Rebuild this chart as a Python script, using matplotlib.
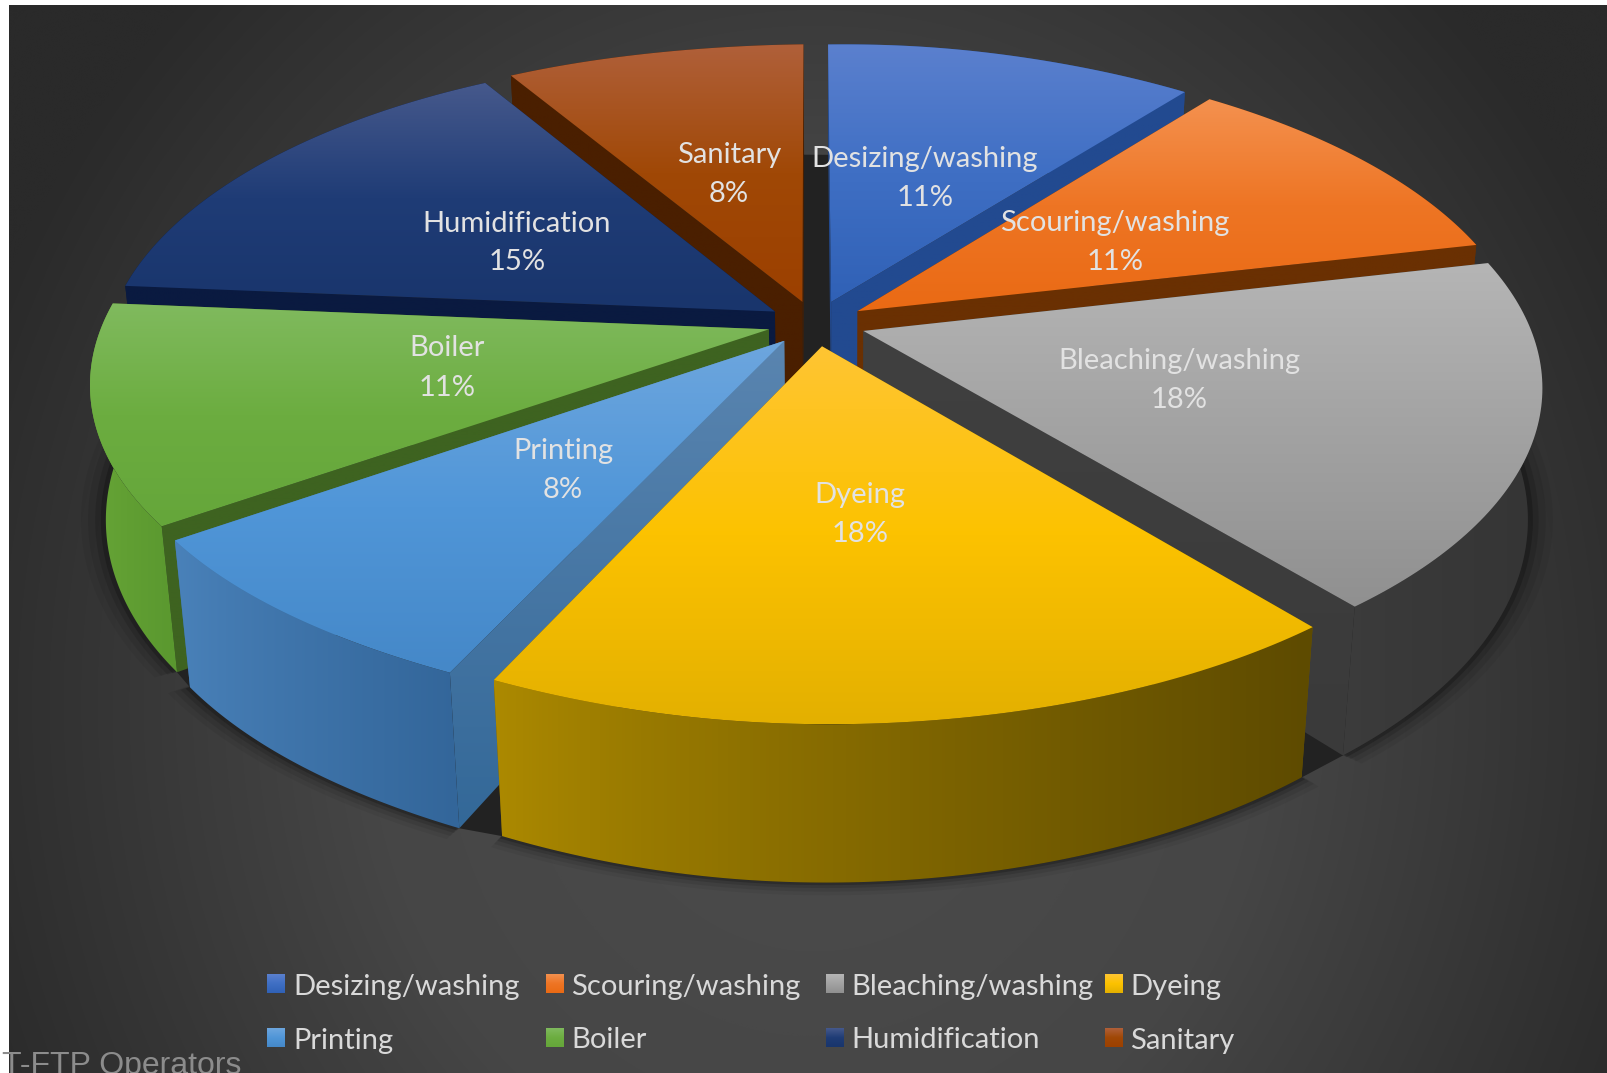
import numpy as np
import matplotlib
matplotlib.use("Agg")
import matplotlib.pyplot as plt
from matplotlib.colors import LinearSegmentedColormap
from matplotlib.patches import Polygon

categories = ["Desizing/washing", "Scouring/washing", "Bleaching/washing", "Dyeing",
              "Printing", "Boiler", "Humidification", "Sanitary"]
values = [11, 11, 18, 18, 8, 11, 15, 8]

top_colors = [("#5B80CE", "#3F6FC4", "#3061B6"), ("#F4914F", "#EE7524", "#EA6A14"),
              ("#B5B5B5", "#A2A2A2", "#909090"), ("#FFC533", "#FCC200", "#E3B000"),
              ("#6DA6DE", "#5096D8", "#4588C8"), ("#80BA5E", "#6CAD40", "#65A63A"),
              ("#46598C", "#1F3C76", "#19356C"), ("#B0603A", "#A04806", "#9C4000")]
edge_colors = [("#224A90", "#224A90"), ("#6A3002", "#6A3002"), ("#404040", "#3A3A3A"),
               ("#6E5600", "#6E5600"), ("#5A85B0", "#336898"), ("#3E6320", "#3E6320"),
               ("#0A1A40", "#0A1A40"), ("#4A1F00", "#4A1F00")]
wall_colors = [("#224A90", "#224A90"), ("#6A3002", "#6A3002"), ("#3C3C3C", "#353535"),
               ("#AD8A00", "#5E4B00"), ("#4A82BA", "#33669A"), ("#68A637", "#5A982F"),
               ("#0A1A40", "#0A1A40"), ("#4A1F00", "#4A1F00")]

label_pos = [(925, 178), (1115, 243), (1179, 381), (860, 514), (563, 471), (447, 368), (517, 243), (729, 175)]
legend_x = [267, 546, 826, 1105]
legend_text_x = [293, 571, 851, 1130]
legend_y = [984, 1038]

# projection of the pie plane onto the page, plus explosion and rotation of the slices
a, b, c, d, f, i, g, h = 685.46, 65.88, 825.26, -21.64, -252.03, 323.04, 0.02869, 0.1647
explode, rot = 0.074, 0.0585
depth, vanish_x, vanish_k = 130, 840, 6440

W, H = 1608, 1073
fig = plt.figure(figsize=(W / 100, H / 100), dpi=100, facecolor="white")
ax = fig.add_axes([0, 0, 1, 1])
ax.axis("off")


def project(u, v):
    w = g * u + h * v + 1
    return (a * u + b * v + c) / w, (d * u + f * v + i) / w, w


def lower(x, y, w):
    # bottom edge of the extruded pie, converging slightly towards the centre
    dy = depth / w
    return x + (vanish_x - x) * dy / vanish_k, y + dy


def bump(theta, centre, width):
    delta = (theta - centre + np.pi) % (2 * np.pi) - np.pi
    return np.exp(-(delta / width) ** 2)


def gradient_fill(points, colors, horizontal=False, gamma=1.0, zorder=2):
    points = np.asarray(points)
    cmap = LinearSegmentedColormap.from_list("g", list(colors))
    ramp = np.linspace(0, 1, 256) ** gamma
    ramp = ramp.reshape(1, -1) if horizontal else ramp.reshape(-1, 1)
    x0, x1 = points[:, 0].min(), points[:, 0].max()
    y0, y1 = points[:, 1].min(), points[:, 1].max()
    im = ax.imshow(ramp, cmap=cmap, extent=(x0, x1, y1, y0), aspect="auto", vmin=0, vmax=1, zorder=zorder)
    patch = Polygon(points, closed=True, transform=ax.transData, fc="none", ec="none")
    ax.add_patch(patch)
    im.set_clip_path(patch)


# background
yy, xx = np.mgrid[0:H, 0:W]
dist = np.hypot((xx - 810) / 900, (yy - 700) / 1000)
bg_cmap = LinearSegmentedColormap.from_list("bg", [(0, "#4C4C4C"), (0.5, "#464646"), (1, "#2A2A2A")])
ax.imshow(np.clip(dist, 0, 1), cmap=bg_cmap, extent=(9, W, H, 5), vmin=0, vmax=1, aspect="auto", zorder=0)

edges = np.radians(np.concatenate([[0], np.cumsum(values)]) * 3.6)
mids = (edges[:-1] + edges[1:]) / 2 + rot

shapes = []
for k in range(len(values)):
    ou, ov = explode * np.sin(mids[k]), explode * np.cos(mids[k])
    th = np.linspace(edges[k], edges[k + 1], 80)
    ax_, ay_, aw_ = project(ou - 0.013, ov)
    ox, oy, ow = project(ou + np.sin(th + rot), ov + np.cos(th + rot))
    # small correction of the rim so the perspective holds at the top and front left
    ox = ox + 17 * bump(th, 0, 0.3) + 14 * bump(th, np.radians(205), 0.35)
    shapes.append(((ax_, ay_, aw_), ox, oy, ow))

# soft shadow under the slices
for scale, alpha in ((1.035, 0.05), (1.025, 0.08), (1.015, 0.12), (1.007, 0.2)):
    for (ap, ox, oy, ow) in shapes:
        lx, ly = lower(ox, oy, ow)
        ax_l, ay_l = lower(*ap)
        pts = np.column_stack([np.r_[ax_l, lx], np.r_[ay_l, ly]])
        pts = np.array([815, 520]) + (pts - np.array([815, 520])) * scale
        ax.add_patch(Polygon(pts, closed=True, fc="black", ec="none", alpha=alpha, zorder=1))

# dark floor showing through the gaps between the slices
rim = [lower(ox, oy, ow) for (ap, ox, oy, ow) in shapes]
floor = np.column_stack([np.concatenate([r[0] for r in rim]), np.concatenate([r[1] for r in rim])])
ax.add_patch(Polygon(floor, closed=True, fc="#222222", ec="none", zorder=1.5))

# slices, back to front: walls first, then the top face
order = np.argsort(-np.cos(mids))
for n, k in enumerate(order):
    ap, ox, oy, ow = shapes[k]
    z = 2 + n * 0.01
    ax_l, ay_l = lower(*ap)
    lx, ly = lower(ox, oy, ow)
    # the radial wall nearer the viewer goes on last
    for e in sorted((0, -1), key=lambda q: oy[q]):
        wall = [(ap[0], ap[1]), (ox[e], oy[e]), (lx[e], ly[e]), (ax_l, ay_l)]
        gradient_fill(wall, edge_colors[k], zorder=z + (0.0002 if oy[e] > oy[-1 - e] else 0))
    outer = np.column_stack([np.r_[ox, lx[::-1]], np.r_[oy, ly[::-1]]])
    left, right = wall_colors[k]
    gradient_fill(outer, (left, right), horizontal=True, gamma=0.8, zorder=z + 0.001)
    face = np.column_stack([np.r_[ap[0], ox], np.r_[ap[1], oy]])
    gradient_fill(face, top_colors[k], zorder=z + 0.002)

# data labels
for k, (name, val) in enumerate(zip(categories, values)):
    tx, ty = label_pos[k]
    ax.text(tx, ty - 19.5, name, color="#E2E2E2", fontsize=21, family="Lato", ha="center", va="center", zorder=5)
    ax.text(tx, ty + 19.5, f"{val}%", color="#E2E2E2", fontsize=21, family="Lato", ha="center", va="center", zorder=5)

# legend
for k, name in enumerate(categories):
    sx = legend_x[k % 4]
    sy = legend_y[k // 4]
    gradient_fill([(sx, sy - 10), (sx + 18, sy - 10), (sx + 18, sy + 9), (sx, sy + 9)],
                  top_colors[k], zorder=5)
    ax.text(legend_text_x[k % 4], sy + 2.5, name, color="#D9D9D9", fontsize=21, family="Lato",
            ha="left", va="center", zorder=5)

ax.text(241, 1066, "T-FTP Operators", color="#8C8C8C", fontsize=23, family="Liberation Sans",
        ha="right", va="center", zorder=6)

ax.set_xlim(0, W)
ax.set_ylim(H, 0)
fig.savefig("out.png", dpi=100, facecolor="white")
